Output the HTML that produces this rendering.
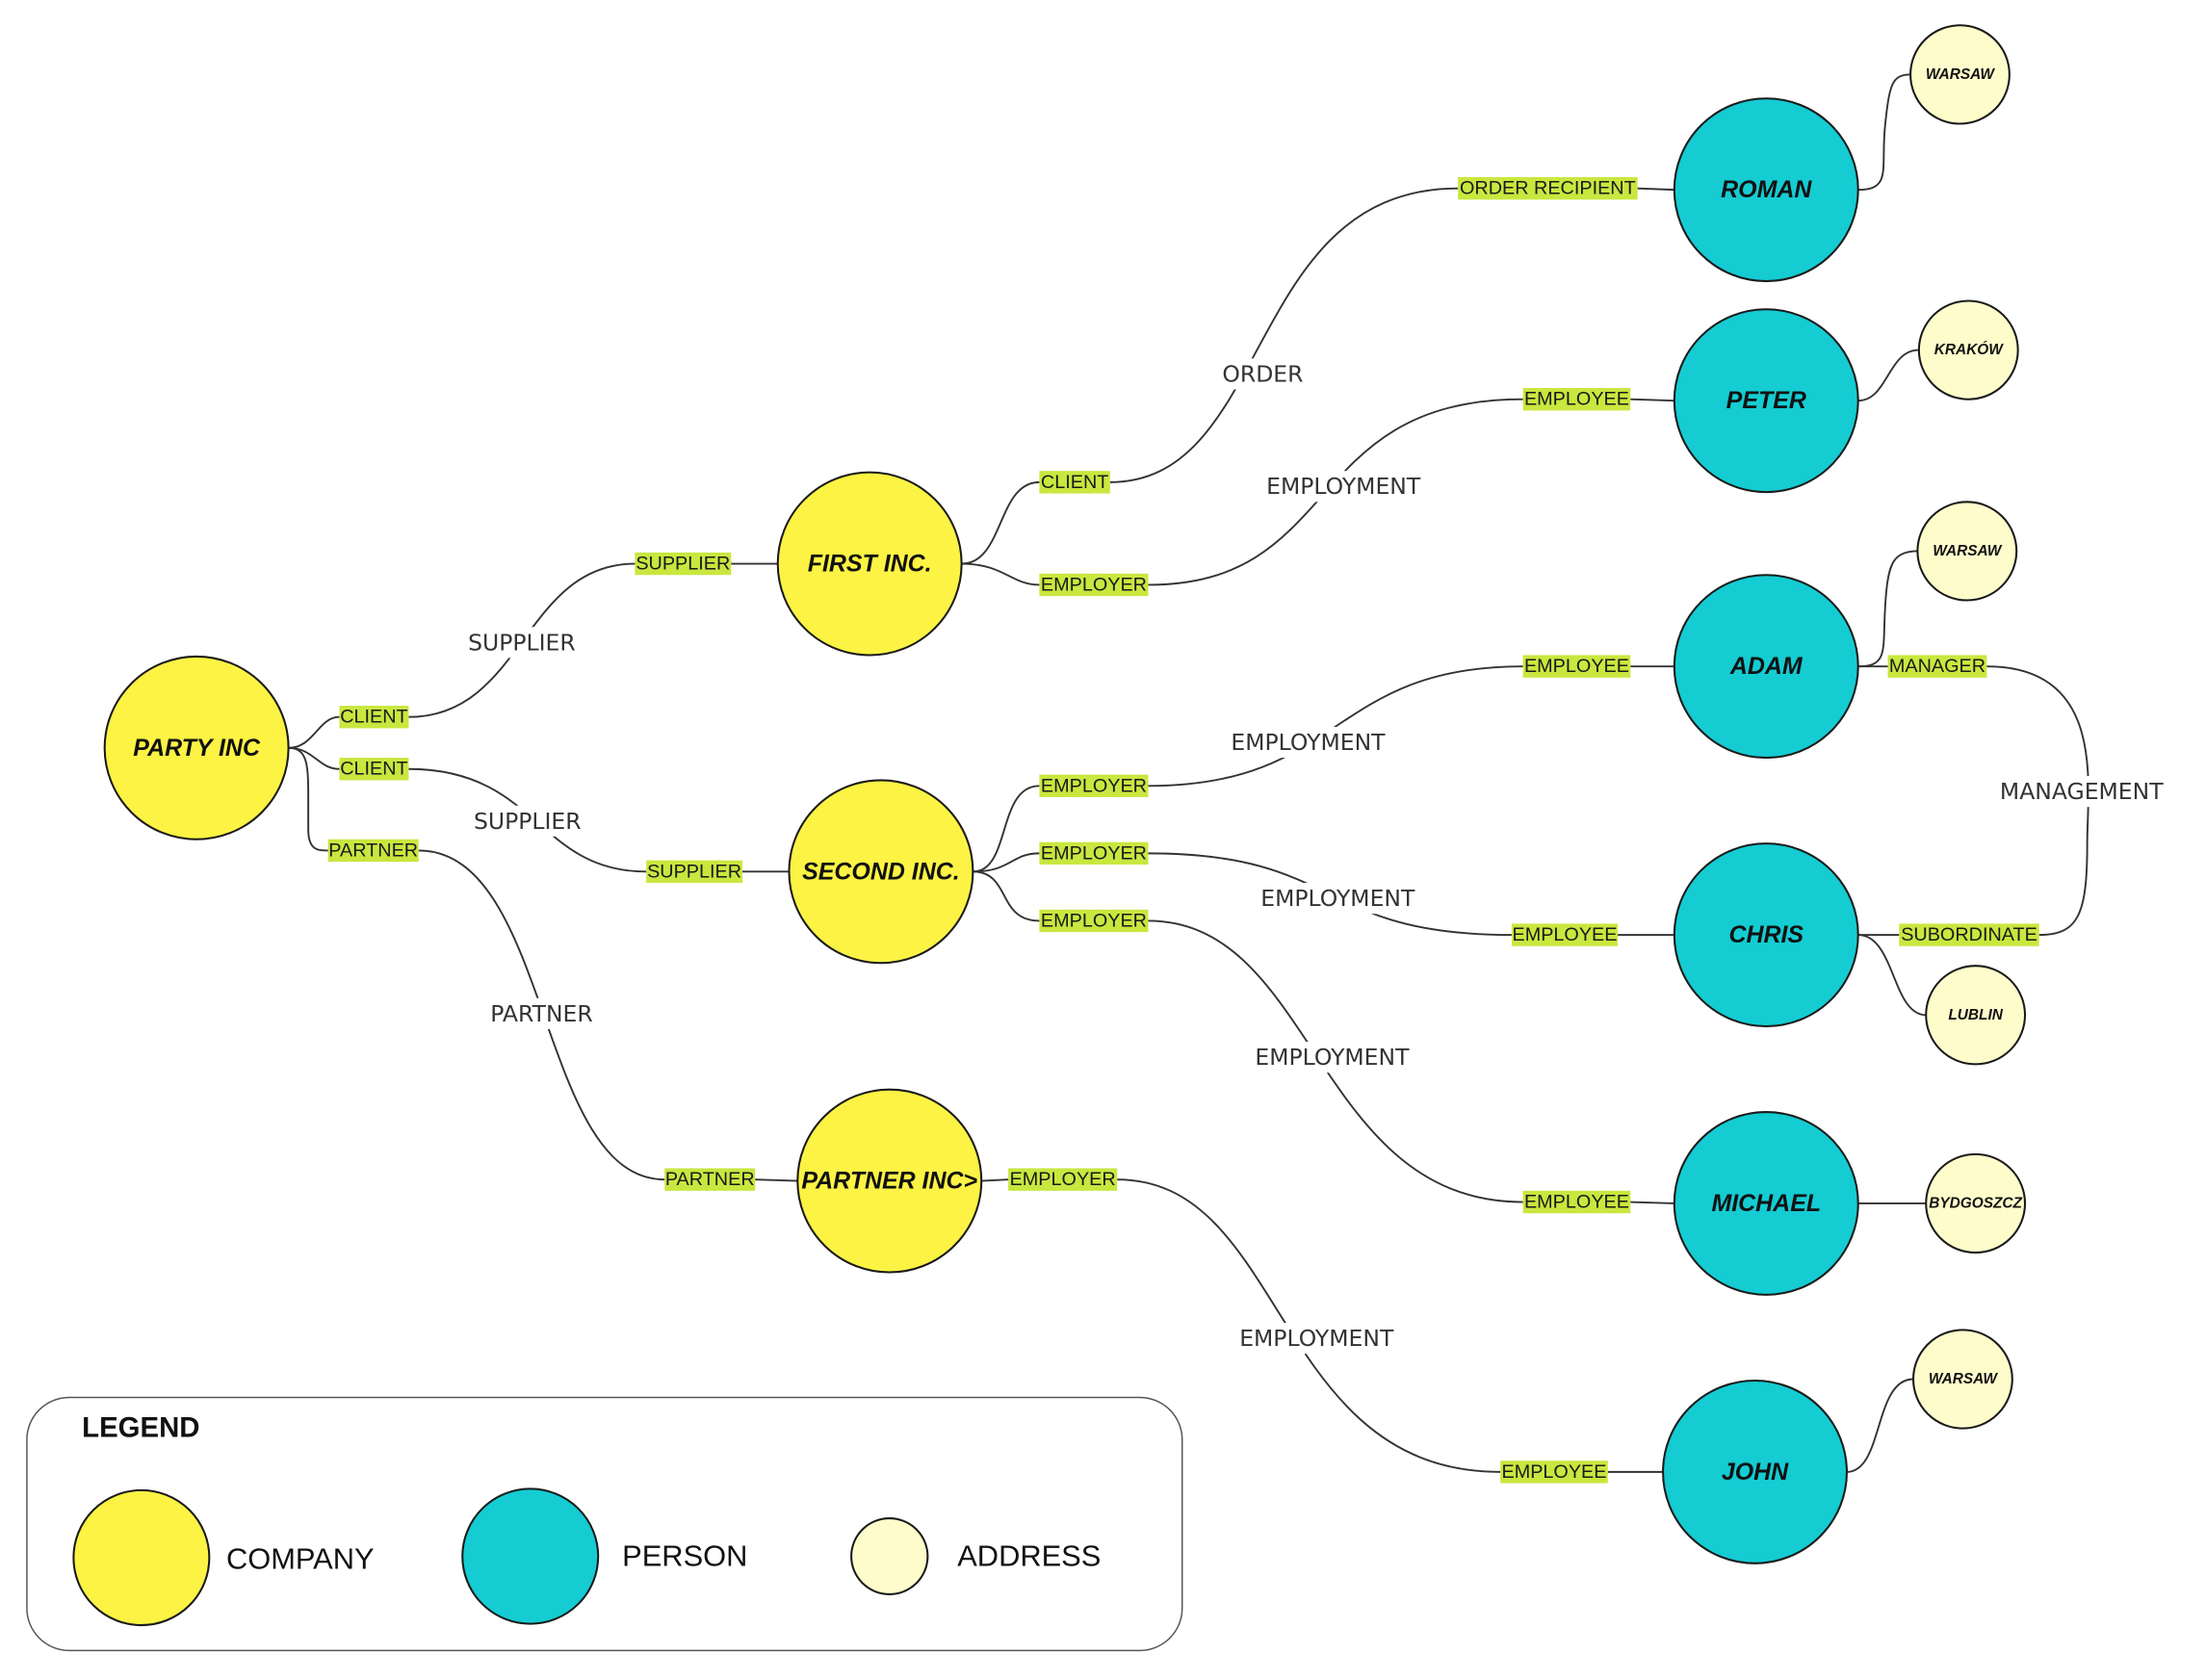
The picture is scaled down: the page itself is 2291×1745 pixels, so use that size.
<!DOCTYPE html>
<html><head><meta charset="utf-8"><style>
html,body{margin:0;padding:0;background:#fff;}
svg{display:block;}
.n{font-family:"Liberation Sans Narrow","Liberation Sans",sans-serif;font-weight:bold;font-style:italic;text-anchor:middle;dominant-baseline:central;fill:#111;}
.l{font-family:"Liberation Sans",sans-serif;font-size:13.5px;fill:#1a1a1a;dominant-baseline:central;text-anchor:middle;}
.m{font-family:"DejaVu Sans","Liberation Sans",sans-serif;font-size:16px;fill:#333;dominant-baseline:central;text-anchor:middle;}
path{fill:none;stroke:#333;stroke-width:1.3;}
</style></head><body>
<svg width="2291" height="1745" viewBox="0 0 1560 1195" preserveAspectRatio="none" xmlns="http://www.w3.org/2000/svg">
<rect x="0" y="0" width="1560" height="1195" fill="#fff"/>
<!-- connectors -->
<path d="M204,532 C222,532 225,510 240,510 M289,510 C370,510 370,401 449,401 M517,401 L550,401"/>
<path d="M204,532 C222,532 225,547 240,547 M289,547 C380,547 380,620 457,620 M525,620 L558,620"/>
<path d="M204,532 C218,532 218,545 218,570 L218,590 C218,605 225,605 232,605 M296,605 C390,605 380,839 470,839 M534,839 L564,840"/>
<path d="M680,401 C710,401 705,343 735,343 M785,343 C900,343 880,134 1031,134 M1158,134 L1184,135"/>
<path d="M680,401 C710,401 715,416 735,416 M812,416 C950,416 920,284 1077,284 M1153,284 L1184,285"/>
<path d="M688,620 C715,620 705,559 735,559 M812,559 C950,559 940,474 1077,474 M1153,474 L1184,474"/>
<path d="M688,620 C715,620 715,607 735,607 M812,607 C950,607 930,665 1069,665 M1144,665 L1184,665"/>
<path d="M688,620 C715,620 705,655 735,655 M812,655 C930,655 930,855 1077,855 M1153,855 L1184,856"/>
<path d="M694,840 L713,839 M790,839 C910,839 900,1047 1061,1047 M1137,1047 L1176,1047"/>
<path d="M1314,135 C1338,135 1330,120 1333,90 C1336,60 1338,53 1351,53"/>
<path d="M1314,285 C1335,285 1335,249 1357,249"/>
<path d="M1314,474 C1338,474 1330,460 1334,420 C1336,400 1340,392 1356,392"/>
<path d="M1314,474 L1335,474 M1405,474 C1490,474 1476,560 1476,600 C1476,650 1470,665 1442,665 M1314,665 L1343,665"/>
<path d="M1314,665 C1340,665 1338,722 1362,722"/>
<path d="M1314,856 L1362,856"/>
<path d="M1306,1047 C1332,1047 1325,981 1353,981"/>
<!-- mid labels -->
<g>
<rect x="328" y="446" width="82" height="22" fill="#fff"/><text class="m" x="369" y="457">SUPPLIER</text>
<rect x="332" y="573" width="82" height="22" fill="#fff"/><text class="m" x="373" y="584">SUPPLIER</text>
<rect x="343" y="710" width="80" height="22" fill="#fff"/><text class="m" x="383" y="721">PARTNER</text>
<rect x="862" y="255" width="62" height="22" fill="#fff"/><text class="m" x="893" y="266">ORDER</text>
<rect x="890" y="335" width="120" height="22" fill="#fff"/><text class="m" x="950" y="346">EMPLOYMENT</text>
<rect x="865" y="517" width="120" height="22" fill="#fff"/><text class="m" x="925" y="528">EMPLOYMENT</text>
<rect x="886" y="628" width="120" height="22" fill="#fff"/><text class="m" x="946" y="639">EMPLOYMENT</text>
<rect x="882" y="741" width="120" height="22" fill="#fff"/><text class="m" x="942" y="752">EMPLOYMENT</text>
<rect x="871" y="941" width="120" height="22" fill="#fff"/><text class="m" x="931" y="952">EMPLOYMENT</text>
<rect x="1410" y="552" width="125" height="22" fill="#fff"/><text class="m" x="1472" y="563">MANAGEMENT</text>
</g>
<!-- end labels -->
<g fill="#c9e73f">
<rect x="240" y="502" width="49" height="16"/><rect x="240" y="539" width="49" height="16"/><rect x="232" y="597" width="64" height="16"/>
<rect x="449" y="393" width="68" height="16"/><rect x="457" y="612" width="68" height="16"/><rect x="470" y="831" width="64" height="16"/>
<rect x="735" y="335" width="50" height="16"/><rect x="735" y="408" width="77" height="16"/>
<rect x="735" y="551" width="77" height="16"/><rect x="735" y="599" width="77" height="16"/><rect x="735" y="647" width="77" height="16"/>
<rect x="713" y="831" width="77" height="16"/>
<rect x="1031" y="126" width="127" height="16"/><rect x="1077" y="276" width="76" height="16"/><rect x="1077" y="466" width="76" height="16"/>
<rect x="1069" y="657" width="75" height="16"/><rect x="1077" y="847" width="76" height="16"/><rect x="1061" y="1039" width="76" height="16"/>
<rect x="1335" y="466" width="70" height="16"/><rect x="1343" y="657" width="99" height="16"/>
</g>
<g class="l">
<text class="l" x="264.5" y="510">CLIENT</text><text class="l" x="264.5" y="547">CLIENT</text><text class="l" x="264" y="605">PARTNER</text>
<text class="l" x="483" y="401">SUPPLIER</text><text class="l" x="491" y="620">SUPPLIER</text><text class="l" x="502" y="839">PARTNER</text>
<text class="l" x="760" y="343">CLIENT</text><text class="l" x="773.5" y="416">EMPLOYER</text>
<text class="l" x="773.5" y="559">EMPLOYER</text><text class="l" x="773.5" y="607">EMPLOYER</text><text class="l" x="773.5" y="655">EMPLOYER</text>
<text class="l" x="751.5" y="839">EMPLOYER</text>
<text class="l" x="1094.5" y="134">ORDER RECIPIENT</text><text class="l" x="1115" y="284">EMPLOYEE</text><text class="l" x="1115" y="474">EMPLOYEE</text>
<text class="l" x="1106.5" y="665">EMPLOYEE</text><text class="l" x="1115" y="855">EMPLOYEE</text><text class="l" x="1099" y="1047">EMPLOYEE</text>
<text class="l" x="1370" y="474">MANAGER</text><text class="l" x="1392.5" y="665">SUBORDINATE</text>
</g>
<!-- nodes -->
<g stroke="#1a1a1a" stroke-width="1.4">
<circle cx="139" cy="532" r="65" fill="#fcf344"/>
<circle cx="615" cy="401" r="65" fill="#fcf344"/>
<circle cx="623" cy="620" r="65" fill="#fcf344"/>
<circle cx="629" cy="840" r="65" fill="#fcf344"/>
<circle cx="1249" cy="135" r="65" fill="#14ccd2"/>
<circle cx="1249" cy="285" r="65" fill="#14ccd2"/>
<circle cx="1249" cy="474" r="65" fill="#14ccd2"/>
<circle cx="1249" cy="665" r="65" fill="#14ccd2"/>
<circle cx="1249" cy="856" r="65" fill="#14ccd2"/>
<circle cx="1241" cy="1047" r="65" fill="#14ccd2"/>
<circle cx="1386" cy="53" r="35" fill="#fffccc"/>
<circle cx="1392" cy="249" r="35" fill="#fffccc"/>
<circle cx="1391" cy="392" r="35" fill="#fffccc"/>
<circle cx="1397" cy="722" r="35" fill="#fffccc"/>
<circle cx="1397" cy="856" r="35" fill="#fffccc"/>
<circle cx="1388" cy="981" r="35" fill="#fffccc"/>
</g>
<g class="n" font-size="17">
<text class="n" x="139" y="532">PARTY INC</text>
<text class="n" x="615" y="401">FIRST INC.</text>
<text class="n" x="623" y="620">SECOND INC.</text>
<text class="n" x="629" y="840">PARTNER INC&gt;</text>
<text class="n" x="1249" y="135">ROMAN</text>
<text class="n" x="1249" y="285">PETER</text>
<text class="n" x="1249" y="474">ADAM</text>
<text class="n" x="1249" y="665">CHRIS</text>
<text class="n" x="1249" y="856">MICHAEL</text>
<text class="n" x="1241" y="1047">JOHN</text>
</g>
<g class="n" font-size="10.5">
<text class="n" x="1386" y="53">WARSAW</text>
<text class="n" x="1392" y="249">KRAKÓW</text>
<text class="n" x="1391" y="392">WARSAW</text>
<text class="n" x="1397" y="722">LUBLIN</text>
<text class="n" x="1397" y="856">BYDGOSZCZ</text>
<text class="n" x="1388" y="981">WARSAW</text>
</g>
<!-- legend -->
<rect x="19" y="994" width="817" height="180" rx="30" ry="30" fill="#fff" stroke="#555" stroke-width="1"/>
<text x="58" y="1022" font-family="Liberation Sans, sans-serif" font-weight="bold" font-size="20" fill="#111">LEGEND</text>
<circle cx="100" cy="1108" r="48" fill="#fcf344" stroke="#1a1a1a" stroke-width="1.4"/>
<circle cx="375" cy="1107" r="48" fill="#14ccd2" stroke="#1a1a1a" stroke-width="1.4"/>
<circle cx="629" cy="1107" r="27" fill="#fffccc" stroke="#1a1a1a" stroke-width="1.4"/>
<g font-family="Liberation Sans, sans-serif" font-size="21" fill="#111">
<text x="160" y="1116">COMPANY</text>
<text x="440" y="1114">PERSON</text>
<text x="677" y="1114">ADDRESS</text>
</g>
</svg>
</body></html>
